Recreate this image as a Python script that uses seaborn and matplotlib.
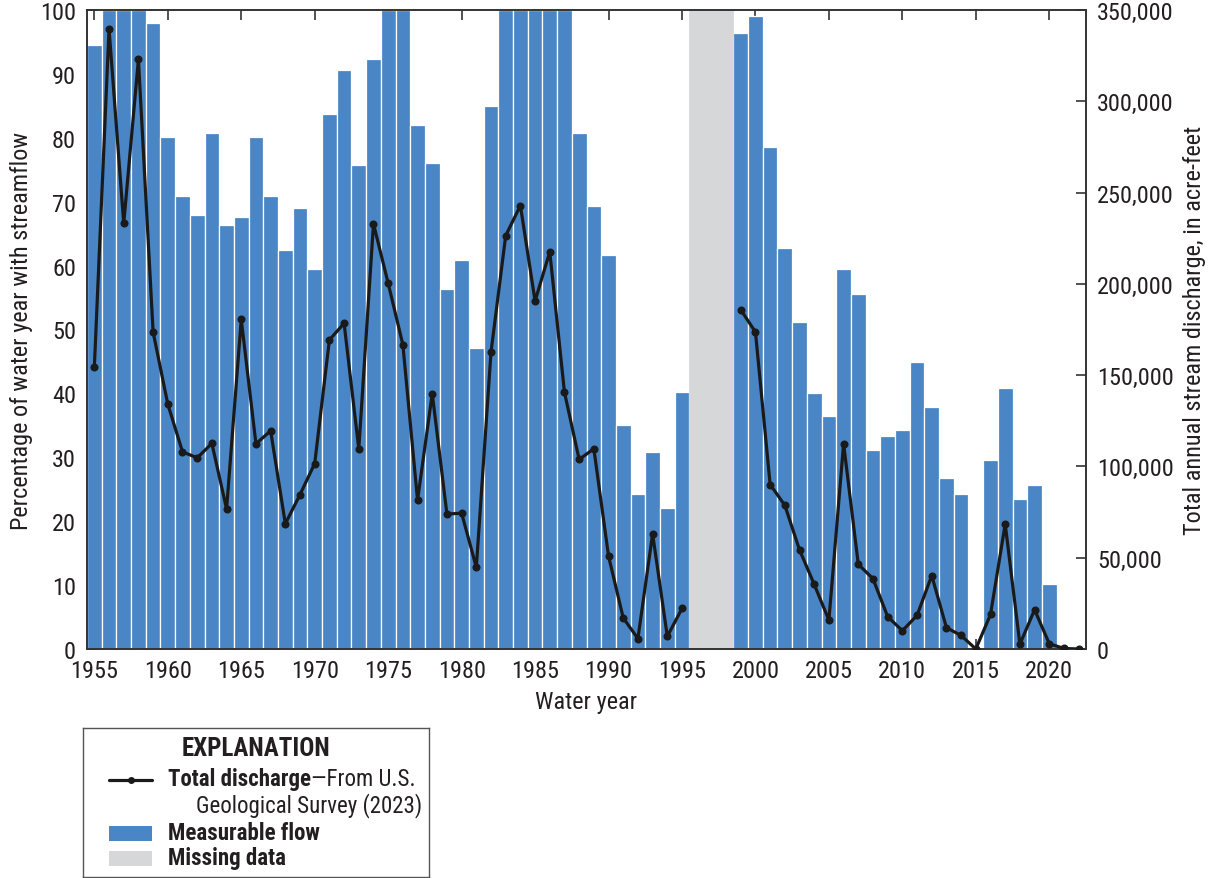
import numpy as np
import pandas as pd
import matplotlib
matplotlib.use("Agg")
import matplotlib.pyplot as plt
import matplotlib.ticker as mticker
from matplotlib import font_manager as fm
from matplotlib.patches import Rectangle
from matplotlib.lines import Line2D
import seaborn as sns

# ---------------- data ----------------
years = list(range(1955, 2023))
nan = np.nan
pct_streamflow = [94.5, 100, 100, 100, 98.0, 80.2, 70.9, 67.9, 80.8, 66.3,
                  67.6, 80.1, 70.9, 62.4, 69.0, 59.4, 83.8, 90.6, 75.8, 92.3,
                  100, 100, 82.0, 76.1, 56.4, 60.9, 47.1, 84.9, 100, 100,
                  100, 100, 100, 80.8, 69.3, 61.6, 35.0, 24.3, 30.9, 22.1,
                  40.2, nan, nan, nan, 96.4, 99.1, 78.6, 62.7, 51.2, 40.0,
                  36.4, 59.4, 55.6, 31.2, 33.4, 34.2, 44.9, 37.8, 26.8, 24.3,
                  0, 29.5, 40.8, 23.5, 25.7, 10.1, 0, 0]
discharge_af = [154400, 339700, 233100, 323000, 173600, 134100, 108000, 104700, 112600, 76700,
                180500, 112400, 119500, 68600, 84600, 101600, 169300, 178400, 109500, 232900,
                200300, 166700, 81500, 139900, 73900, 74400, 44700, 162600, 226400, 242900,
                190600, 217600, 140600, 103800, 109700, 50900, 17000, 5700, 63100, 6900,
                22200, nan, nan, nan, 185800, 173600, 90100, 78700, 54300, 35400,
                15800, 112400, 46400, 38500, 17700, 10000, 18400, 40200, 11700, 7400,
                0, 18900, 68400, 2600, 21500, 2900, 300, 0]
pct_ticks = [0, 10, 20, 30, 40, 50, 60, 70, 80, 90, 100]
discharge_ticks = [0, 50000, 100000, 150000, 200000, 250000, 300000, 350000]
year_ticks = list(range(1955, 2021, 5))

df = pd.DataFrame({"year": years, "pct": pct_streamflow, "discharge": discharge_af})
measured = df.dropna(subset=["pct"])
missing = df[df["pct"].isna()].assign(full=100.0)
line_df = df.assign(seg=df["discharge"].isna().cumsum()).dropna(subset=["discharge"])

# ---------------- style ----------------
sns.set_theme(style="ticks")

# pick a condensed face if one is installed, else a regular narrow-ish sans
entries = fm.fontManager.ttflist
cond_names = ["Roboto Condensed", "Liberation Sans Narrow", "Open Sans Condensed",
              "Noto Sans Condensed", "DejaVu Sans Condensed"]
family, stretch, condensed = None, "normal", False
avail = {e.name for e in entries}
for n in cond_names:
    if n in avail:
        family, condensed = n, True
        break
if family is None:
    for base in ["Roboto", "Noto Sans", "Open Sans"]:
        hits = [e for e in entries if e.name == base and
                str(e.stretch) in ("condensed", "semi-condensed", "extra-condensed")]
        if hits:
            family, stretch, condensed = base, str(hits[0].stretch), True
            break
if family is None:
    family = "Roboto" if "Roboto" in avail else "Liberation Sans"

plt.rcParams["font.family"] = [family, "DejaVu Sans"]
plt.rcParams["font.stretch"] = stretch
FS = 17.5 if condensed else 14.5
LFS = 16.5 if condensed else 13.5

TXT = "#231f20"
BLUE = "#4a86c5"
GRAY = "#d6d7d9"
plt.rcParams["text.color"] = TXT
plt.rcParams["axes.labelcolor"] = TXT
plt.rcParams["xtick.color"] = "#333333"
plt.rcParams["ytick.color"] = "#333333"

fig = plt.figure(figsize=(12.1, 8.79), dpi=100)
W, H = 1210, 879
x0, x1, y0, y1 = 87, 1086, 11, 650
ax = fig.add_axes([x0 / W, 1 - y1 / H, (x1 - x0) / W, (y1 - y0) / H])

sns.barplot(data=measured, x="year", y="pct", native_scale=True, width=1.0,
            color=BLUE, saturation=1, edgecolor="white", linewidth=0.9,
            errorbar=None, ax=ax, zorder=2)
sns.barplot(data=missing, x="year", y="full", native_scale=True, width=1.0,
            color=GRAY, saturation=1, edgecolor=GRAY, linewidth=0.5,
            errorbar=None, ax=ax, zorder=2)

ax.set_xlim(years[0] - 0.5, years[-1] + 0.5)
ax.set_ylim(0, 100)
ax.set_xticks(year_ticks)
ax.set_xticklabels([str(y) for y in year_ticks])
ax.set_yticks(pct_ticks)
ax.set_yticklabels([str(v) for v in pct_ticks])
ax.tick_params(axis="x", direction="in", top=True, length=7, width=1.2,
               labelsize=FS, pad=7, labelcolor=TXT)
ax.tick_params(axis="y", direction="in", length=7, width=1.2,
               labelsize=FS, pad=8, labelcolor=TXT)
ax.set_xlabel("Water year", fontsize=FS)
ax.set_ylabel("Percentage of water year with streamflow", fontsize=FS)
ax.xaxis.set_label_coords(0.5, (y1 - 691) / (y1 - y0))
ax.yaxis.set_label_coords((33 - x0) / (x1 - x0), 0.5)
for s in ax.spines.values():
    s.set_color("#333333")
    s.set_linewidth(1.2)
    s.set_visible(True)

ax2 = ax.twinx()
sns.lineplot(data=line_df, x="year", y="discharge", units="seg", estimator=None,
             color="#1a1a1a", linewidth=2.3, marker="o", markersize=5.8,
             markeredgewidth=0, ax=ax2, legend=False, zorder=3)
ax2.set_ylim(0, 350000)
ax2.set_xlim(years[0] - 0.5, years[-1] + 0.5)
ax2.set_yticks(discharge_ticks)
ax2.yaxis.set_major_formatter(mticker.FuncFormatter(lambda v, p: f"{v:,.0f}"))
ax2.tick_params(axis="y", direction="in", length=7, width=1.2,
                labelsize=FS, pad=8, labelcolor=TXT)
ax2.set_ylabel("Total annual stream discharge, in acre-feet", fontsize=FS)
ax2.yaxis.set_label_coords((1183 - x0) / (x1 - x0), 0.5)
ax2.set_xlabel("")
for s in ax2.spines.values():
    s.set_color("#333333")
    s.set_linewidth(1.2)

# ---------------- explanation box ----------------
lax = fig.add_axes([83 / W, 1 - 878 / H, (429 - 83) / W, (878 - 729) / H])
lax.set_xlim(83, 429)
lax.set_ylim(878, 729)
lax.set_xticks([])
lax.set_yticks([])
for s in lax.spines.values():
    s.set_color("#555555")
    s.set_linewidth(1.0)
    s.set_visible(True)
lax.set_facecolor("white")

lax.text(256, 749, "EXPLANATION", ha="center", va="center", fontsize=FS + 0.5,
         fontweight="bold")
lax.add_line(Line2D([109, 152], [781, 781], color="#1a1a1a", linewidth=2.3))
lax.plot([130.5], [781], "o", color="#1a1a1a", markersize=5, markeredgewidth=0)
t1 = lax.text(168, 780, "Total discharge", ha="left", va="center",
              fontsize=LFS, fontweight="bold")
fig.canvas.draw()
bb = t1.get_window_extent(renderer=fig.canvas.get_renderer())
x_end = lax.transData.inverted().transform((bb.x1, bb.y0))[0]
lax.text(x_end, 780, "\u2014From U.S.", ha="left", va="center", fontsize=LFS)
lax.text(196, 806, "Geological Survey (2023)", ha="left", va="center", fontsize=LFS)
lax.add_patch(Rectangle((109, 827), 43, 15, facecolor=BLUE, edgecolor="none"))
lax.text(168, 834, "Measurable flow", ha="left", va="center", fontsize=LFS,
         fontweight="bold")
lax.add_patch(Rectangle((109, 852), 43, 15, facecolor=GRAY, edgecolor="none"))
lax.text(168, 859, "Missing data", ha="left", va="center", fontsize=LFS,
         fontweight="bold")

fig.savefig("out.png", dpi=100)
